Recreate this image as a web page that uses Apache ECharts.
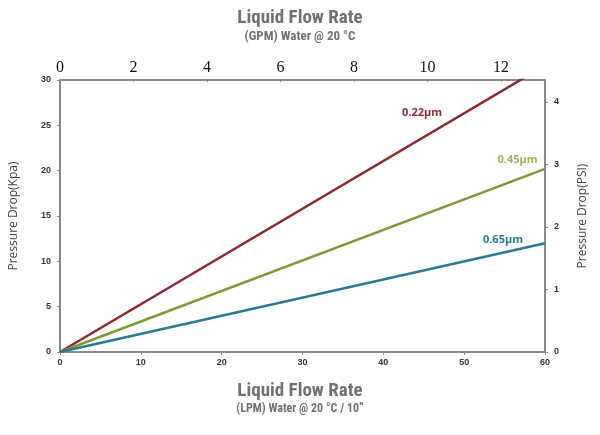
<!DOCTYPE html>
<html>
<head>
<meta charset="utf-8">
<script src="https://cdn.jsdelivr.net/npm/echarts@6/dist/echarts.min.js"></script>
<style>
  html, body { margin: 0; padding: 0; background: #fff; }
  #chart { width: 600px; height: 435px; }
</style>
</head>
<body>
<div id="chart"></div>
<script>
"use strict";

//
// Data
//
const flow_lpm = [0, 60];
const drop_022 = [0, 31.6]; // kPa, runs past the top of the plot
const drop_045 = [0, 20.2];
const drop_065 = [0, 12.0];

const series_names = ["0.22μm", "0.45μm", "0.65μm"];
const series_colors = ["#8c2a2f", "#7b9a3b", "#2c7a90"];
const label_colors = ["#8c2a2f", "#97b35c", "#2c7a90"];
// where the pore size labels sit, in LPM / kPa
const label_pos = [[44.8, 26.4], [56.6, 21.2], [54.8, 12.4]];

const gpm_max = 13.2; // 60 LPM in gallons per minute
const psi_max = 4.351; // 30 kPa in psi

//
// Helpers
//
const axis_color = "#8a8a8a";
const title_font = "'Liberation Sans Narrow', 'Roboto Condensed', 'Liberation Sans', sans-serif";

function make_series(i, values) {
  return {
    type: "line",
    name: series_names[i],
    xAxisIndex: 0,
    yAxisIndex: 0,
    data: flow_lpm.map((x, k) => [x, values[k]]),
    showSymbol: false,
    lineStyle: { color: series_colors[i], width: 2.5 },
    clip: true,
    silent: true,
    markPoint: {
      symbol: "circle",
      symbolSize: 0,
      label: {
        show: true,
        formatter: series_names[i],
        color: label_colors[i],
        fontFamily: "'Open Sans', sans-serif",
        fontWeight: "bold",
        fontSize: 11,
      },
      data: [{ coord: label_pos[i] }],
    },
  };
}

//
// Chart
//
const chart = echarts.init(document.getElementById("chart"));
chart.setOption({
  animation: false,
  title: [
    {
      text: "Liquid Flow Rate",
      subtext: "(GPM) Water @ 20 °C",
      left: "center",
      top: 4,
      itemGap: 2,
      textStyle: { fontFamily: title_font, fontWeight: "bold", fontSize: 19, color: "#707174" },
      subtextStyle: { fontFamily: title_font, fontWeight: "bold", fontSize: 13, color: "#707174" },
    },
    {
      text: "Liquid Flow Rate",
      subtext: "(LPM) Water @ 20 °C / 10”",
      left: "center",
      top: 377,
      itemGap: 2,
      textStyle: { fontFamily: title_font, fontWeight: "bold", fontSize: 19, color: "#707174" },
      subtextStyle: { fontFamily: title_font, fontWeight: "bold", fontSize: 12, color: "#707174" },
    },
  ],
  grid: { left: 60, right: 55, top: 80, bottom: 83, containLabel: false },
  xAxis: [
    {
      type: "value",
      position: "bottom",
      min: 0,
      max: 60,
      interval: 10,
      splitLine: { show: false },
      axisLine: { onZero: false, lineStyle: { color: axis_color, width: 2 } },
      axisTick: { length: 3, lineStyle: { color: axis_color } },
      axisLabel: { fontSize: 9, fontWeight: "bold", color: "#333", margin: 6 },
    },
    {
      type: "value",
      position: "top",
      min: 0,
      max: gpm_max,
      interval: 2,
      splitLine: { show: false },
      axisLine: { onZero: false, lineStyle: { color: axis_color, width: 2 } },
      axisTick: { inside: true, length: 2, lineStyle: { color: axis_color } },
      axisLabel: {
        fontFamily: "'Liberation Serif', serif",
        fontSize: 16,
        color: "#111",
        margin: 4,
        showMaxLabel: false,
      },
    },
  ],
  yAxis: [
    {
      type: "value",
      position: "left",
      min: 0,
      max: 30,
      interval: 5,
      name: "Pressure Drop(Kpa)",
      nameLocation: "middle",
      nameGap: 40,
      nameTextStyle: { fontFamily: "'Open Sans', sans-serif", fontSize: 12, color: "#444" },
      splitLine: { show: false },
      axisLine: { show: true, onZero: false, lineStyle: { color: axis_color, width: 2 } },
      axisTick: { show: true, length: 3, lineStyle: { color: axis_color } },
      axisLabel: { fontSize: 9, fontWeight: "bold", color: "#333", margin: 9 },
    },
    {
      type: "value",
      position: "right",
      min: 0,
      max: psi_max,
      interval: 1,
      name: "Pressure Drop(PSI)",
      nameLocation: "middle",
      nameGap: 32,
      nameRotate: 90,
      nameTextStyle: { fontFamily: "'Open Sans', sans-serif", fontSize: 12, color: "#444" },
      splitLine: { show: false },
      axisLine: { show: true, onZero: false, lineStyle: { color: axis_color, width: 2 } },
      axisTick: { show: true, length: 3, lineStyle: { color: axis_color } },
      axisLabel: { fontSize: 9, fontWeight: "bold", color: "#333", margin: 9, showMaxLabel: false },
    },
  ],
  series: [
    make_series(0, drop_022),
    make_series(1, drop_045),
    make_series(2, drop_065),
  ],
});
</script>
</body>
</html>
